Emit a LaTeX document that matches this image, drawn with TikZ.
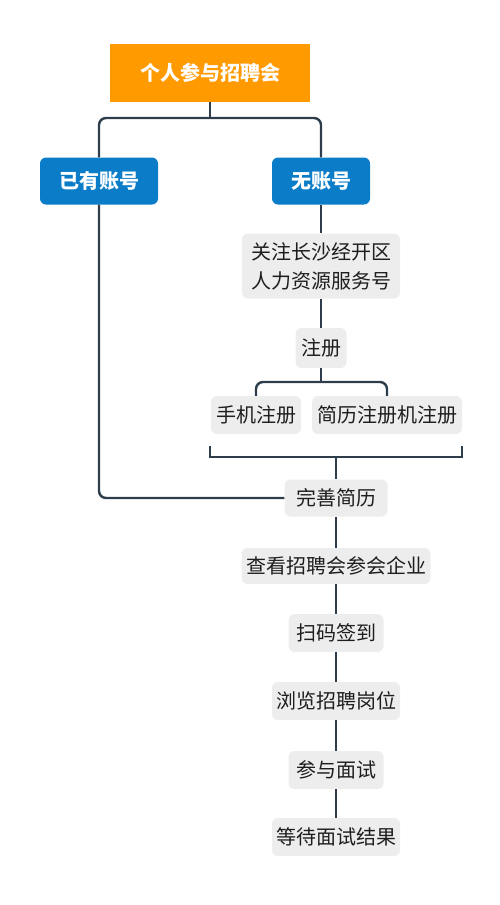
\documentclass[tikz,border=0pt]{standalone}
\usepackage{fontspec}
\setmainfont{Noto Sans CJK SC}
\usetikzlibrary{calc}
\definecolor{orangebox}{HTML}{FF9A00}
\definecolor{bluebox}{HTML}{0A7CC8}
\definecolor{graybox}{HTML}{EDEDED}
\definecolor{linec}{HTML}{2E3D4C}
\definecolor{txt}{HTML}{1E1E1E}
\begin{document}
\begin{tikzpicture}[x=1pt,y=-1pt,
  topbox/.style={fill=orangebox,text=white,font=\fontsize{20}{24}\selectfont\bfseries,inner sep=0pt,minimum width=200pt,minimum height=58pt},
  bluenode/.style={fill=bluebox,text=white,rounded corners=6pt,font=\fontsize{20}{24}\selectfont\bfseries,inner sep=0pt,minimum height=47pt},
  graynode/.style={fill=graybox,text=txt,rounded corners=6pt,font=\fontsize{20}{24}\selectfont,inner sep=0pt,minimum height=38pt},
  conn/.style={draw=linec,line width=2.4pt,rounded corners=7pt}]
\useasboundingbox (0,0) rectangle (500,905);
\node[topbox] (top) at (210,73) {个人参与招聘会};
\node[bluenode,minimum width=118pt] (yes) at (99,181) {已有账号};
\node[bluenode,minimum width=98pt] (no) at (321,181) {无账号};
\node[graynode,minimum width=158pt,minimum height=65pt,align=left,font=\fontsize{20}{29}\selectfont] (follow) at (321,266) {关注长沙经开区\\人力资源服务号};
\node[graynode,minimum width=51pt,minimum height=40pt] (reg) at (321,348) {注册};
\node[graynode,minimum width=90pt] (phone) at (256,415) {手机注册};
\node[graynode,minimum width=150pt] (cv) at (387,415) {简历注册机注册};
\node[graynode,minimum width=103pt,minimum height=37pt] (perfect) at (336,498) {完善简历};
\node[graynode,minimum width=189pt,minimum height=36pt] (view) at (336,566) {查看招聘会参会企业};
\node[graynode,minimum width=95pt] (scan) at (336,633) {扫码签到};
\node[graynode,minimum width=128pt] (browse) at (336,701) {浏览招聘岗位};
\node[graynode,minimum width=95pt] (interview) at (336,770) {参与面试};
\node[graynode,minimum width=128pt] (wait) at (336,837) {等待面试结果};
\coordinate (j1) at (210,118);
\coordinate (j2) at (321,382);
\coordinate (b1) at (210,446);
\coordinate (b2) at (210,457);
\coordinate (b3) at (462,457);
\coordinate (b4) at (462,446);
\coordinate (bm) at (336,457);
\draw[conn] (top.south) -- (j1);
\draw[conn] (yes.north) |- (j1) -| (no.north);
\draw[conn] (no.south) -- (follow.north);
\draw[conn] (follow.south) -- (reg.north);
\draw[conn] (reg.south) -- (j2);
\draw[conn] (phone.north) |- (j2) -| (cv.north);
\draw[draw=linec,line width=2.4pt] (b1) -- (b2) -- (b3) -- (b4);
\draw[conn] (bm) -- (perfect.north);
\draw[conn] (yes.south) |- (perfect.west);
\draw[conn] (perfect.south) -- (view.north);
\draw[conn] (view.south) -- (scan.north);
\draw[conn] (scan.south) -- (browse.north);
\draw[conn] (browse.south) -- (interview.north);
\draw[conn] (interview.south) -- (wait.north);
\end{tikzpicture}
\end{document}
